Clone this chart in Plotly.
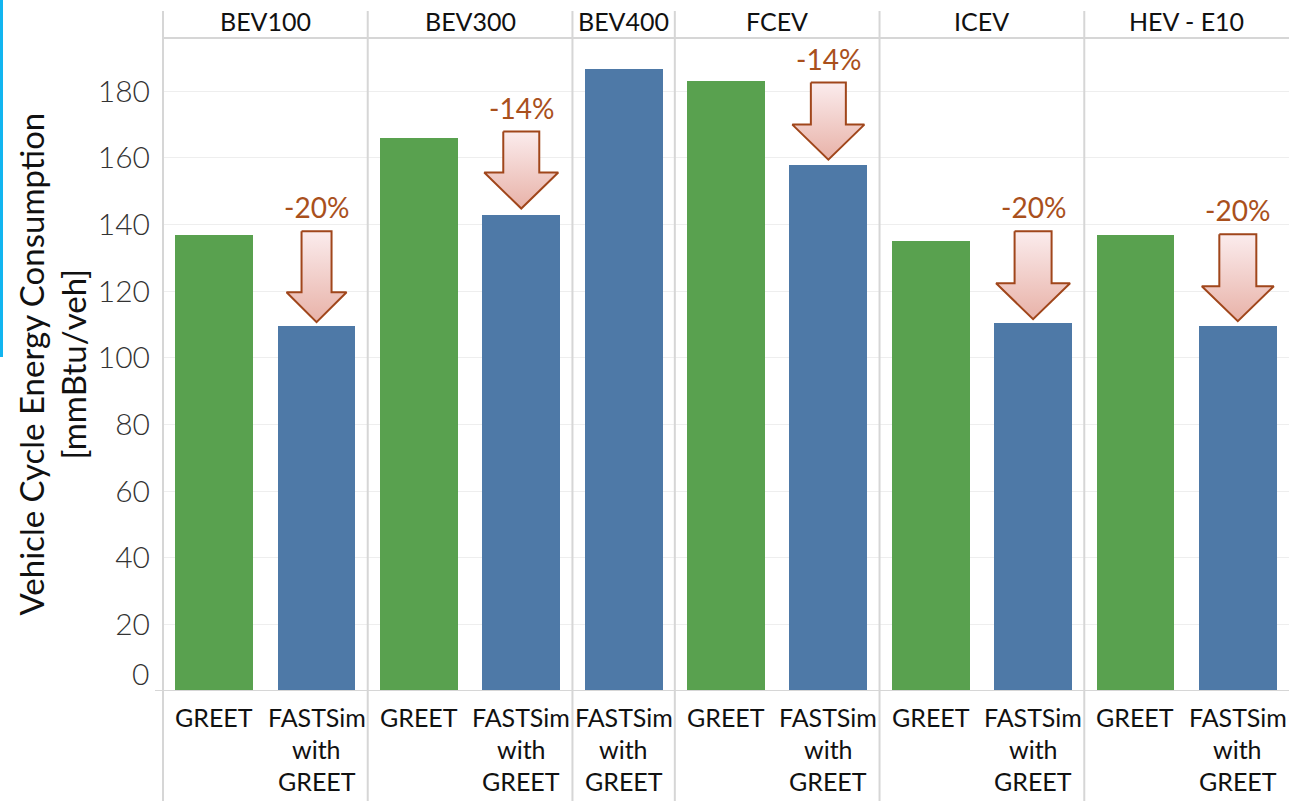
import plotly.graph_objects as go

# ---------------- data ----------------
groups = ["BEV100", "BEV300", "BEV400", "FCEV", "ICEV", "HEV - E10"]
bar_group = ["BEV100", "BEV100", "BEV300", "BEV300", "BEV400", "FCEV", "FCEV", "ICEV", "ICEV", "HEV - E10", "HEV - E10"]
bar_method = ["GREET", "FASTSim", "GREET", "FASTSim", "FASTSim", "GREET", "FASTSim", "GREET", "FASTSim", "GREET", "FASTSim"]
bar_values = [137.0, 109.5, 166.0, 143.0, 186.6, 183.0, 158.0, 135.0, 110.4, 136.8, 109.5]
method_labels = {"GREET": "GREET", "FASTSim": "FASTSim<br>with<br>GREET"}
y_ticks = [0, 20, 40, 60, 80, 100, 120, 140, 160, 180]
change_groups = ["BEV100", "BEV300", "FCEV", "ICEV", "HEV - E10"]
change_labels = ["-20%", "-14%", "-14%", "-20%", "-20%"]

# ---------------- styling ----------------
FONT = "Lato"
GREEN = "#59a14f"
BLUE = "#4e79a7"
ARROW_LINE = "#a0461b"
LABEL_COLOR = "#a9501c"
DIV = "#d6d6d6"
W, H = 1289, 801
ML, MR, MT, MB = 163, 0, 38, 110
YMAX = 196
pw, ph = W - ML - MR, H - MT - MB
n = len(bar_values)
slot_px = pw / n
ypx = ph / YMAX
# arrow sizes in pixels: shaft width, head width, head height, total length, gap above bar
arrow_px = [(30, 60, 30, 91, 4), (36, 74, 36, 77, 6), (35, 72, 35, 77, 5),
            (37, 74, 36, 88, 4), (37, 72, 35, 87, 5)]

xs = list(range(n))
fig = go.Figure()
for m, col in [("GREET", GREEN), ("FASTSim", BLUE)]:
    idx = [i for i in xs if bar_method[i] == m]
    fig.add_trace(go.Bar(x=[xs[i] for i in idx], y=[bar_values[i] for i in idx],
                         marker=dict(color=col, line=dict(width=0)), width=0.76,
                         showlegend=False, hoverinfo="skip"))

annotations = []
shapes = []

# arrows + labels
for g, lab, (sw, hw, hh, L, gap) in zip(change_groups, change_labels, arrow_px):
    i = [k for k in xs if bar_group[k] == g and bar_method[k] == "FASTSim"][0]
    cx = xs[i]
    tip = bar_values[i] + gap / ypx
    hs = tip + hh / ypx
    top = tip + L / ypx
    s2, h2 = sw / slot_px / 2, hw / slot_px / 2
    px_ = [cx - s2, cx + s2, cx + s2, cx + h2, cx, cx - h2, cx - s2, cx - s2]
    py_ = [top, top, hs, hs, tip, hs, hs, top]
    fig.add_trace(go.Scatter(x=px_, y=py_, mode="lines", fill="toself",
                             fillgradient=dict(type="vertical",
                                               colorscale=[[0, "#e8b2a8"], [1, "#fbeced"]]),
                             line=dict(color=ARROW_LINE, width=2),
                             showlegend=False, hoverinfo="skip"))
    annotations.append(dict(x=cx, y=top, xref="x", yref="y", text=lab, showarrow=False,
                            yshift=24, yanchor="middle",
                            font=dict(family=FONT, size=28, color=LABEL_COLOR)))

# group headers and dividers
bounds = []
start = 0
for g in groups:
    cnt = bar_group.count(g)
    annotations.append(dict(x=start - 0.5 + cnt / 2, y=1, xref="x", yref="paper", text=g,
                            showarrow=False, yanchor="middle", yshift=17,
                            font=dict(family=FONT, size=25, color="#111111")))
    start += cnt
    bounds.append(start - 0.5)

y_bot = -MB / ph
y_top = 1 + 27 / ph
shapes.append(dict(type="line", xref="paper", yref="paper", x0=0, x1=0, y0=y_bot, y1=y_top,
                   line=dict(color=DIV, width=2)))
for b in bounds[:-1]:
    shapes.append(dict(type="line", xref="x", yref="paper", x0=b, x1=b, y0=y_bot, y1=y_top,
                       line=dict(color=DIV, width=2)))
shapes.append(dict(type="line", xref="paper", yref="paper", x0=0, x1=1, y0=1, y1=1,
                   line=dict(color=DIV, width=2)))
shapes.append(dict(type="line", xref="paper", yref="y", x0=-8 / pw, x1=1, y0=0, y1=0,
                   line=dict(color=DIV, width=2)))
# cyan accent at left edge
shapes.append(dict(type="rect", xref="paper", yref="paper", x0=-ML / pw, x1=(3 - ML) / pw,
                   y0=(ph + MT - 357) / ph, y1=1 + MT / ph,
                   line=dict(width=0), fillcolor="#12b5f0"))

# x labels (multi-line)
for i in xs:
    lines = method_labels[bar_method[i]].split("<br>")
    for j, t in enumerate(lines):
        annotations.append(dict(x=xs[i], y=0, xref="x", yref="paper", text=t, showarrow=False,
                                yanchor="middle", yshift=-26 - 32 * j,
                                font=dict(family=FONT, size=25, color="#111111")))

# zero tick label shifted up (as in reference)
annotations.append(dict(x=0, y=0, xref="paper", yref="y", text="0", showarrow=False,
                        xanchor="right", xshift=-12, yanchor="middle", yshift=18,
                        font=dict(family=FONT, size=30, color="#333333", weight=300)))

# y title
annotations.append(dict(x=0, y=0.5, xref="paper", yref="paper",
                        text="Vehicle Cycle Energy Consumption", textangle=-90,
                        showarrow=False, xshift=-133, xanchor="center", yanchor="middle",
                        font=dict(family=FONT, size=33, color="#111111")))
annotations.append(dict(x=0, y=0.5, xref="paper", yref="paper", text="[mmBtu/veh]",
                        textangle=-90, showarrow=False, xshift=-91, xanchor="center",
                        yanchor="middle", font=dict(family=FONT, size=33, color="#111111")))

fig.update_layout(
    width=W, height=H, margin=dict(l=ML, r=MR, t=MT, b=MB),
    plot_bgcolor="white", paper_bgcolor="white", bargap=0,
    xaxis=dict(range=[-0.5, n - 0.5], showticklabels=False, showgrid=False, zeroline=False,
               fixedrange=True),
    yaxis=dict(range=[0, YMAX], tickvals=y_ticks[1:], ticktext=[str(v) for v in y_ticks[1:]],
               showgrid=True, gridcolor="#eeeeee", gridwidth=1, zeroline=False,
               ticks="", ticklabelstandoff=12,
               tickfont=dict(family=FONT, size=30, color="#333333", weight=300)),
    annotations=annotations, shapes=shapes, showlegend=False,
)
fig.write_html("out.html")
